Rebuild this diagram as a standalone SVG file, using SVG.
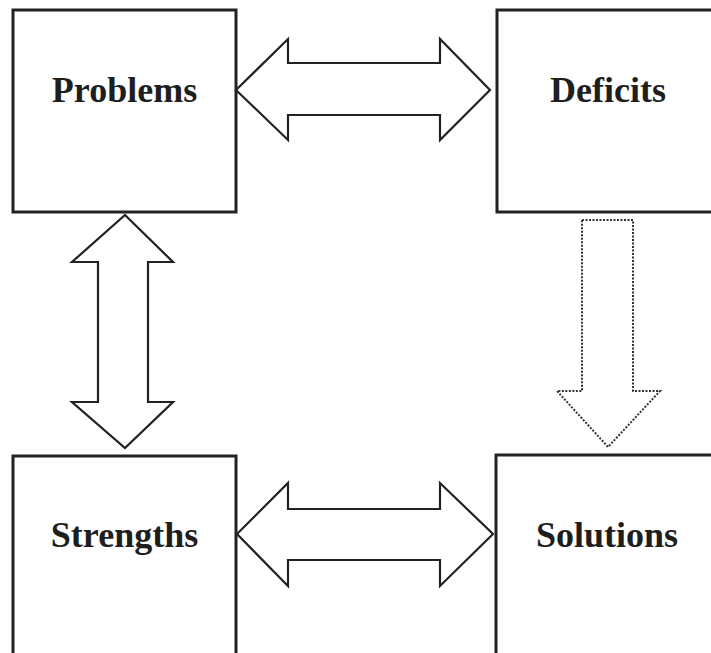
<svg xmlns="http://www.w3.org/2000/svg" width="711" height="653" viewBox="0 0 711 653">
<style>
.box{fill:#fff;stroke:#222;stroke-width:3}
.lbl{font-family:"Liberation Serif","Times New Roman",serif;font-weight:bold;font-size:36px;fill:#1e1e1e;text-anchor:middle}
.arr{fill:#fff;stroke:#222;stroke-width:2.2;stroke-linejoin:miter}
.dot{fill:#fff;stroke:#333;stroke-width:2;stroke-dasharray:2 1.5}
</style>
<rect width="711" height="653" fill="#fff"/>
<g id="problems"><rect class="box" x="13" y="10" width="223" height="202"/><text class="lbl" x="124.5" y="102">Problems</text></g>
<g id="deficits"><rect class="box" x="497" y="10" width="230" height="202"/><text class="lbl" x="608" y="102">Deficits</text></g>
<g id="strengths"><rect class="box" x="13" y="456" width="223" height="220"/><text class="lbl" x="124.5" y="547">Strengths</text></g>
<g id="solutions"><rect class="box" x="496" y="455" width="230" height="220"/><text class="lbl" x="607" y="547">Solutions</text></g>
<g id="connectors">
<polygon class="arr" points="236,90 288,39 288,63 440,63 440,39 490,90 440,140 440,115 288,115 288,140"/>
<polygon class="arr" points="125,215 173,262 148,262 148,402 173,402 125,448 72,402 98,402 98,262 72,262"/>
<polygon class="dot" points="582,220 633,220 633,391 660,391 608,447 557,391 582,391"/>
<polygon class="arr" points="237,534 288,483 288,509 440,509 440,483 493,534 440,586 440,560 288,560 288,586"/>
</g>
</svg>
